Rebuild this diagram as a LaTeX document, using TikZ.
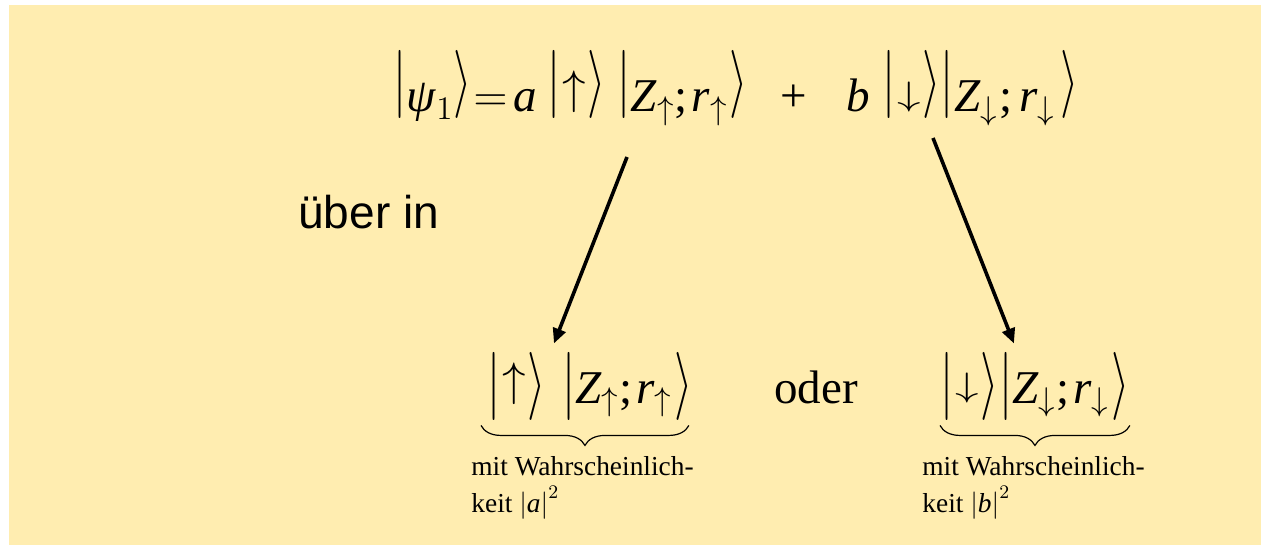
\RequirePackage{fix-cm}
\documentclass[tikz,border=0pt]{standalone}
\usepackage{fontspec}
\usepackage{graphicx}
\setmainfont{Liberation Serif}
\newfontfamily\sansfont{Liberation Sans}
\usetikzlibrary{arrows.meta,decorations.pathreplacing}
\definecolor{notebg}{RGB}{255,237,176}
\newcommand{\vi}[1]{\textit{#1}}
\newcommand{\bigfont}{\fontsize{23.5}{28}\selectfont}
\newcommand{\smallfont}{\fontsize{13.7}{18.5}\selectfont}
% hohe Klammern und Spinpfeile fuer die Kets
\newcommand{\kl}[1][0pt]{\raisebox{#1}{\scalebox{1}[1.45]{$|$}}}
\newcommand{\kr}[1][0pt]{\raisebox{#1}{\scalebox{1}[1.45]{$\rangle$}}}
\newcommand{\spinup}{\raisebox{4pt}{$\uparrow$}}
\newcommand{\spindown}{\raisebox{3.3pt}{\scalebox{1}[0.72]{$\downarrow$}}}
\begin{document}
\begin{tikzpicture}[x=0.5pt,y=-0.5pt,>={Triangle[length=7.5pt,width=6.5pt]},
	formel/.style={inner sep=0pt,anchor=base west,font=\bigfont},
	prob/.style={inner sep=0pt,anchor=north west,align=left,font=\smallfont},
	conn/.style={->,line width=1.8pt},
	klammer/.style={decorate,decoration={brace,mirror,amplitude=10pt},line width=0.6pt}]
	\useasboundingbox (0,0) rectangle (1261,545);
	\fill[notebg] (9,5) rectangle (1261,545);
	% Zustand vor der Messung
	\node[formel] (psi) at (393,112) {\kl[5pt]\vi{ψ}$_1$\kr[5pt]\hspace{1pt}$=$\hspace{3pt}\vi{a}\hspace{5pt}\kl[5pt]\hspace{1pt}\spinup\hspace{1pt}\kr[5pt]\hspace{6pt}\kl[5pt]\vi{Z}$_\uparrow$;\hspace{2pt}\vi{r}$_\uparrow$\hspace{1pt}\kr[5pt]\hspace{16pt}+\hspace{20pt}\vi{b}\hspace{6pt}\kl[5pt]\hspace{1pt}\spindown\hspace{1pt}\kr[5pt]\kl[5pt]\vi{Z}$_\downarrow$\hspace{1pt};\hspace{3pt}\vi{r}$_\downarrow$\hspace{3pt}\kr[5pt]};
	\node[inner sep=0pt,anchor=base west,font=\sansfont\fontsize{23}{28}\selectfont] (uber) at (298,228) {über in};
	% die beiden Ausgaenge
	\node[formel] (upket) at (487,403) {\kl\hspace{1pt}\spinup\hspace{1pt}\kr\hspace{8pt}\kl\vi{Z}$_\uparrow$;\hspace{2pt}\vi{r}$_\uparrow$\hspace{1pt}\kr};
	\node[formel] (oder) at (774,403) {oder};
	\node[formel] (downket) at (940,403) {\kl\hspace{1pt}\spindown\hspace{1pt}\kr\kl\vi{Z}$_\downarrow$;\hspace{2pt}\vi{r}$_\downarrow$\hspace{1pt}\kr};
	\draw[klammer] ([xshift=-3pt,yshift=-2.5pt]upket.south west) -- ([xshift=-2pt,yshift=-2.5pt]upket.south east);
	\draw[klammer] ([yshift=-2.5pt]downket.south west) -- ([yshift=-2.5pt]downket.south east);
	\node[prob] (upprob) at (471,456) {mit Wahrscheinlich-\\keit $\big|$\vi{a}$\big|^2$};
	\node[prob] (downprob) at (922,456) {mit Wahrscheinlich-\\keit $\big|$\vi{b}$\big|^2$};
	\coordinate (upfrom) at (627,157);
	\coordinate (downfrom) at (933,138);
	\draw[conn] (upfrom) -- ([xshift=-18pt,yshift=4pt]upket.north);
	\draw[conn] (downfrom) -- ([xshift=-10.5pt,yshift=4pt]downket.north);
\end{tikzpicture}
\end{document}
